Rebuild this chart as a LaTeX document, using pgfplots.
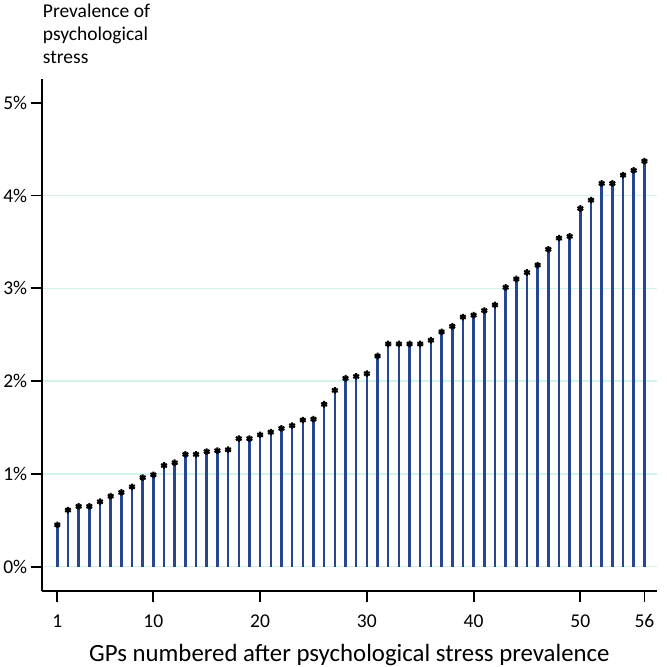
\documentclass[border=0pt]{standalone}
\usepackage{pgfplots}
\pgfplotsset{compat=1.18}
\usepackage{pgfplotstable}
\usepackage{fontspec}
\setmainfont{Carlito}

\definecolor{stemblue}{RGB}{38,70,148}
\definecolor{gridcyan}{RGB}{210,242,236}

% GP number, prevalence (%)
\pgfplotstableread{
gp val
1 0.45
2 0.61
3 0.65
4 0.65
5 0.70
6 0.76
7 0.80
8 0.86
9 0.96
10 0.99
11 1.09
12 1.12
13 1.21
14 1.21
15 1.24
16 1.25
17 1.26
18 1.38
19 1.38
20 1.42
21 1.45
22 1.49
23 1.52
24 1.58
25 1.59
26 1.75
27 1.90
28 2.03
29 2.05
30 2.08
31 2.27
32 2.40
33 2.40
34 2.40
35 2.40
36 2.44
37 2.53
38 2.59
39 2.69
40 2.71
41 2.76
42 2.82
43 3.01
44 3.10
45 3.17
46 3.25
47 3.42
48 3.54
49 3.56
50 3.86
51 3.95
52 4.13
53 4.13
54 4.22
55 4.27
56 4.37
}\prevtable

\begin{document}
\begin{tikzpicture}
  \begin{axis}[
    name=ax,
    scale only axis,
    width=615bp, height=512bp,
    xmin=-0.46, xmax=57.18,
    ymin=-0.265, ymax=5.255,
    axis x line*=bottom, axis y line*=left,
    axis line style={line width=1.8bp, black, -},
    xtick={1,10,20,30,40,50,56},
    ytick={0,1,2,3,4},
    extra y ticks={5},
    extra y tick labels={5\%},
    extra y tick style={grid=none},
    yticklabel={\pgfmathprintnumber{\tick}\%},
    /pgf/number format/assume math mode=true,
    tick align=outside,
    xtick pos=bottom, ytick pos=left,
    major tick length=11bp,
    tick style={line width=1.8bp, black},
    ymajorgrids,
    grid style={gridcyan, line width=1.5bp},
    tick label style={font=\fontsize{19.5bp}{23bp}\selectfont},
    xticklabel style={yshift=-9bp},
    xlabel={GPs numbered after psychological stress prevalence},
    xlabel style={font=\fontsize{24.8bp}{28bp}\selectfont,
      at={(rel axis cs:0.5,0)}, anchor=base, yshift=-70.7bp, inner sep=0pt},
  ]
    \addplot[ycomb, stemblue, line width=2.5bp] table[x=gp, y=val] {\prevtable};
    \addplot[only marks, mark=asterisk, mark size=3.3bp, black,
      mark options={line width=2bp}] table[x=gp, y=val] {\prevtable};
  \end{axis}
  \node[anchor=base west, inner sep=0pt,
    font=\fontsize{19.5bp}{23bp}\selectfont]
    at ([xshift=1bp, yshift=16bp]ax.north west)
    {\begin{tabular}[b]{@{}l@{}}Prevalence of\\psychological\\stress\end{tabular}};
  \path ([xshift=-41.7bp, yshift=-75.7bp]ax.south west)
    rectangle ([xshift=9.3bp, yshift=79bp]ax.north east);
\end{tikzpicture}
\end{document}
